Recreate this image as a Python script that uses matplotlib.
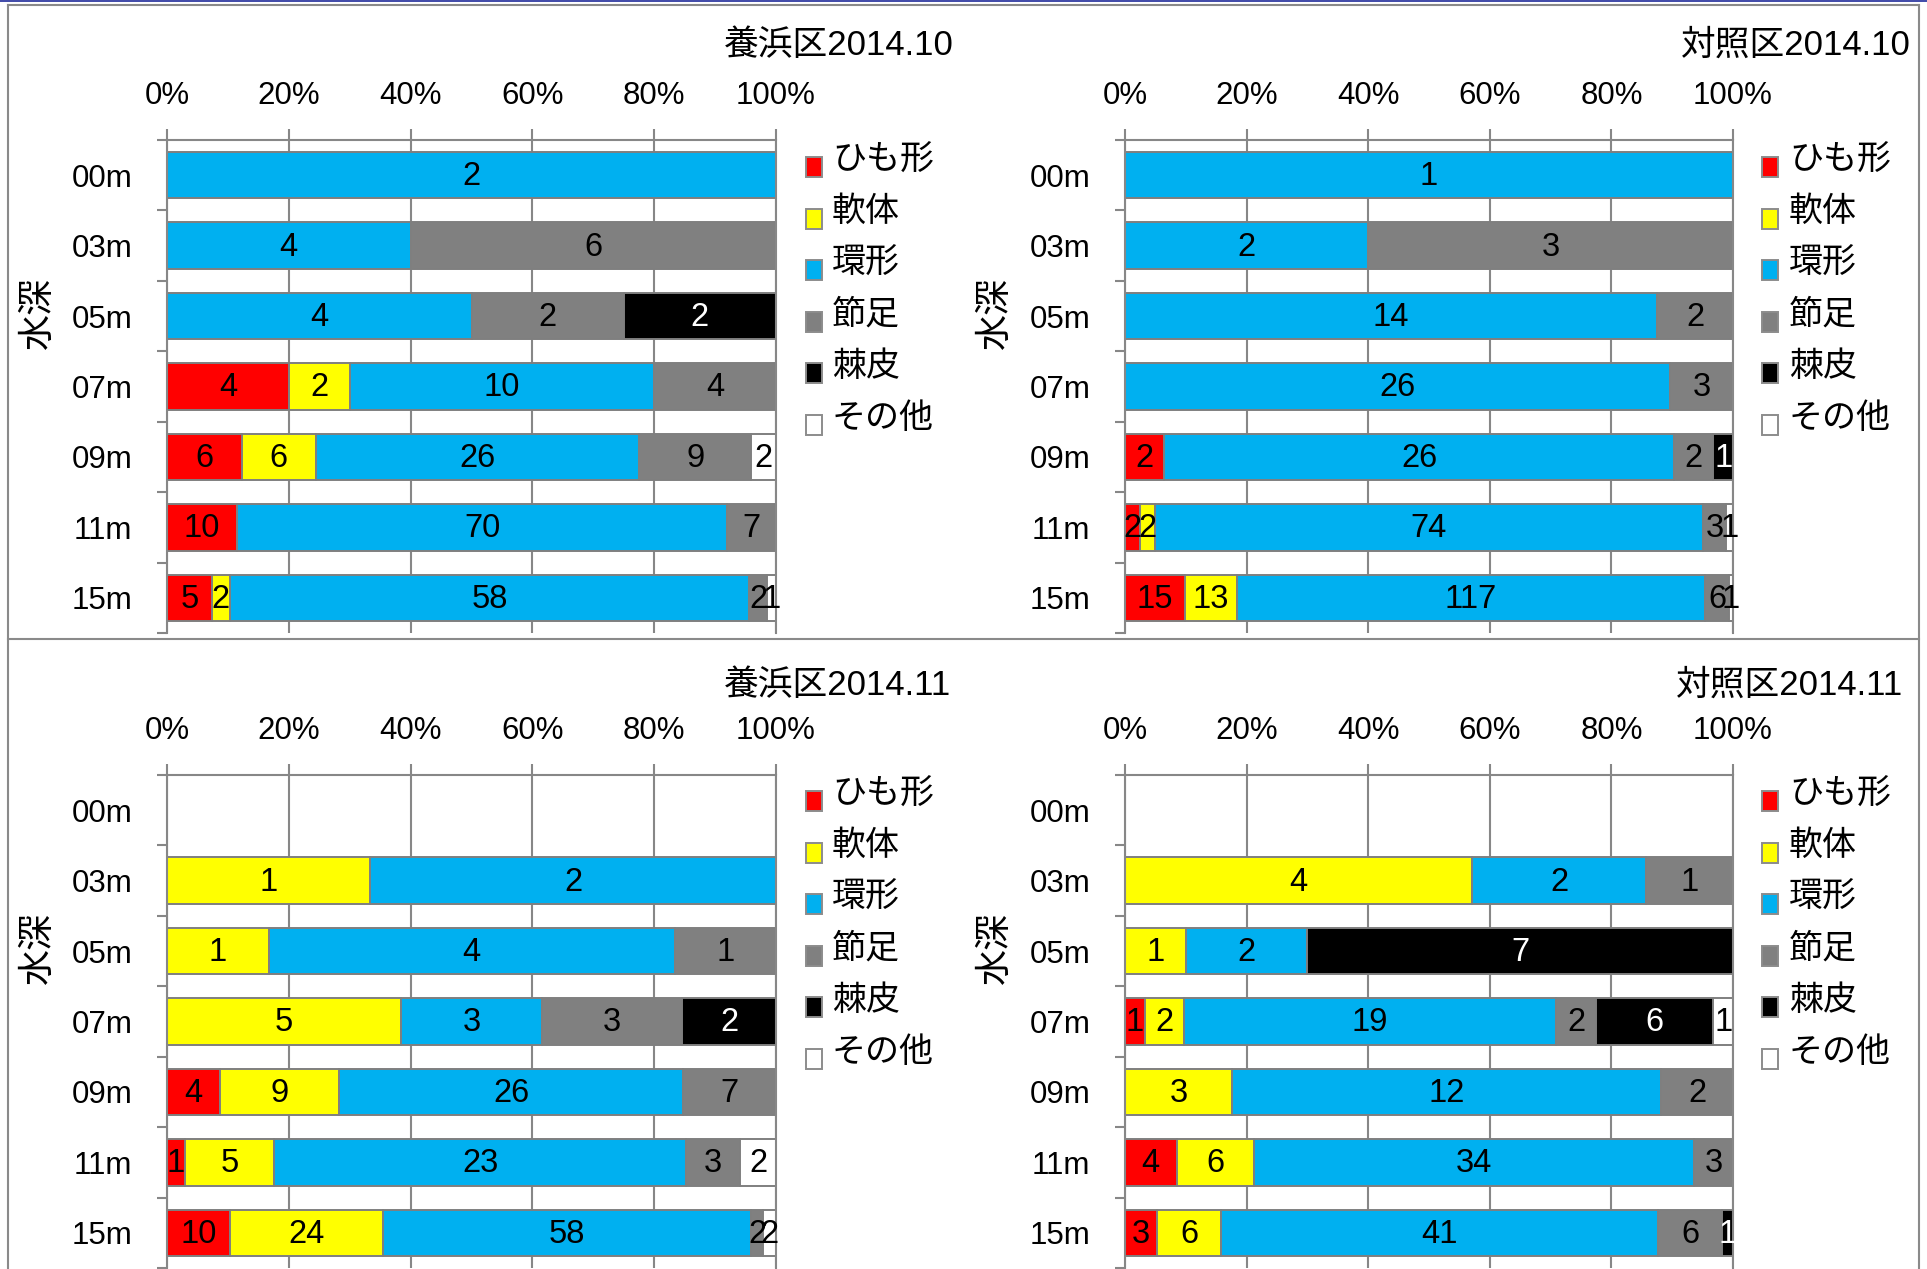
import matplotlib
matplotlib.use("Agg")
import matplotlib.pyplot as plt
from matplotlib.patches import Rectangle
from matplotlib.lines import Line2D
import numpy as np

plt.rcParams['font.family'] = ['Liberation Sans', 'Noto Sans CJK JP']

# ---- data: counts per depth (rows) and taxon group (columns) ----
depths = ['00m', '03m', '05m', '07m', '09m', '11m', '15m']
groups = ['ひも形', '軟体', '環形', '節足', '棘皮', 'その他']
group_colors = ['#FF0000', '#FFFF00', '#00B0F0', '#808080', '#000000', '#FFFFFF']
label_colors = ['black', 'black', 'black', 'black', 'white', 'black']
pct_ticks = [0, 20, 40, 60, 80, 100]

nourished_2014_10 = [
    [0, 0, 2, 0, 0, 0],
    [0, 0, 4, 6, 0, 0],
    [0, 0, 4, 2, 2, 0],
    [4, 2, 10, 4, 0, 0],
    [6, 6, 26, 9, 0, 2],
    [10, 0, 70, 7, 0, 0],
    [5, 2, 58, 2, 0, 1],
]
control_2014_10 = [
    [0, 0, 1, 0, 0, 0],
    [0, 0, 2, 3, 0, 0],
    [0, 0, 14, 2, 0, 0],
    [0, 0, 26, 3, 0, 0],
    [2, 0, 26, 2, 1, 0],
    [2, 2, 74, 3, 0, 1],
    [15, 13, 117, 6, 0, 1],
]
nourished_2014_11 = [
    [0, 0, 0, 0, 0, 0],
    [0, 1, 2, 0, 0, 0],
    [0, 1, 4, 1, 0, 0],
    [0, 5, 3, 3, 2, 0],
    [4, 9, 26, 7, 0, 0],
    [1, 5, 23, 3, 0, 2],
    [10, 24, 58, 2, 0, 2],
]
control_2014_11 = [
    [0, 0, 0, 0, 0, 0],
    [0, 4, 2, 1, 0, 0],
    [0, 1, 2, 0, 7, 0],
    [1, 2, 19, 2, 6, 1],
    [0, 3, 12, 2, 0, 0],
    [4, 6, 34, 3, 0, 0],
    [3, 6, 41, 6, 1, 0],
]

titles = ['養浜区2014.10', '対照区2014.10', '養浜区2014.11', '対照区2014.11']
tables = [nourished_2014_10, control_2014_10, nourished_2014_11, control_2014_11]

# ---- layout (pixels, measured from the top-left corner) ----
W, H = 1927, 1269
fig = plt.figure(figsize=(W / 100, H / 100), dpi=100)


def fx(x):
    return x / W


def fy(y):
    return 1 - y / H


GRID = '#878787'
EDGE = '#7f7f7f'
FS = 22.5

# axes x-range, axes top, title right edge, title y, legend marker x, legend text x,
# first legend row y, y-label x
layout = [
    dict(x0=167, x1=776, top=140, tr=954, ty=45, mx=814, tx=832, ly=161, yl=38),
    dict(x0=1125, x1=1733, top=140, tr=1911, ty=45, mx=1770, tx=1789, ly=161, yl=995),
    dict(x0=167, x1=776, top=775, tr=951, ty=685, mx=814, tx=832, ly=795, yl=38),
    dict(x0=1125, x1=1733, top=775, tr=1903, ty=685, mx=1770, tx=1789, ly=795, yl=995),
]
AX_H = 493
LEG_STEP = 51.6

for title, table, L in zip(titles, tables, layout):
    ax = fig.add_axes([fx(L['x0']), fy(L['top'] + AX_H),
                       (L['x1'] - L['x0']) / W, AX_H / H])
    ax.set_xlim(0, 1)
    ax.set_ylim(len(depths) - 0.5, -0.5)

    # percentage axis on top
    ax.xaxis.tick_top()
    ax.set_xticks([t / 100 for t in pct_ticks])
    ax.set_xticklabels([f'{t}%' for t in pct_ticks])
    ax.tick_params(axis='x', which='major', length=8, width=1.5, color=GRID,
                   pad=13, labelsize=FS)

    # category boundaries as ticks, names centred between them
    ax.set_yticks(np.arange(-0.5, len(depths), 1.0))
    ax.set_yticks(np.arange(len(depths)), minor=True)
    ax.set_yticklabels(depths, minor=True)
    ax.tick_params(axis='y', which='major', length=7, width=1.5, color=GRID,
                   labelleft=False)
    ax.tick_params(axis='y', which='minor', length=0, pad=25, labelsize=FS)

    ax.grid(axis='x', color=GRID, lw=1.5)
    ax.set_axisbelow(True)
    for side in ('top', 'left', 'right'):
        ax.spines[side].set_color(GRID)
        ax.spines[side].set_linewidth(1.5)
    ax.spines['bottom'].set_visible(False)

    # 100% stacked bars with count labels
    for i, row in enumerate(table):
        total = sum(row)
        if total == 0:
            continue
        left = 0.0
        for j, v in enumerate(row):
            if v <= 0:
                continue
            frac = v / total
            ax.barh(i, frac, left=left, height=0.66, color=group_colors[j],
                    edgecolor=EDGE, linewidth=1.4, zorder=2)
            ax.text(left + frac / 2, i + 0.02, str(v), ha='center', va='center',
                    fontsize=FS + 1, color=label_colors[j], zorder=3)
            left += frac

    # title
    fig.text(fx(L['tr']), fy(L['ty']), title, ha='right', va='center', fontsize=25)

    # axis name
    fig.text(fx(L['yl']), fy(L['top'] + 173), '水深', rotation=90,
             ha='center', va='center', fontsize=26)

    # legend
    for k, g in enumerate(groups):
        yc = L['ly'] + LEG_STEP * k
        fig.patches.append(Rectangle((fx(L['mx'] - 8), fy(yc + 16)), 16 / W, 20 / H,
                                     transform=fig.transFigure,
                                     facecolor=group_colors[k], edgecolor='#8c8c8c',
                                     linewidth=1.4))
        fig.text(fx(L['tx']), fy(yc), g, ha='left', va='center', fontsize=24.5)

# outer frame and the divider between the two months
frame = dict(transform=fig.transFigure, color='#8a8a8a', lw=1.5)
fig.add_artist(Line2D([0, 1], [fy(0.6), fy(0.6)], transform=fig.transFigure,
                      color='#1f2a9a', lw=1.2))
fig.add_artist(Line2D([fx(7.5), fx(1918.5)], [fy(4.5), fy(4.5)], **frame))
fig.add_artist(Line2D([fx(7.5), fx(7.5)], [fy(4.5), 0], **frame))
fig.add_artist(Line2D([fx(1918.5), fx(1918.5)], [fy(4.5), 0], **frame))
fig.add_artist(Line2D([fx(7.5), fx(1918.5)], [fy(639), fy(639)], **frame))

fig.savefig('out.png', dpi=100)
